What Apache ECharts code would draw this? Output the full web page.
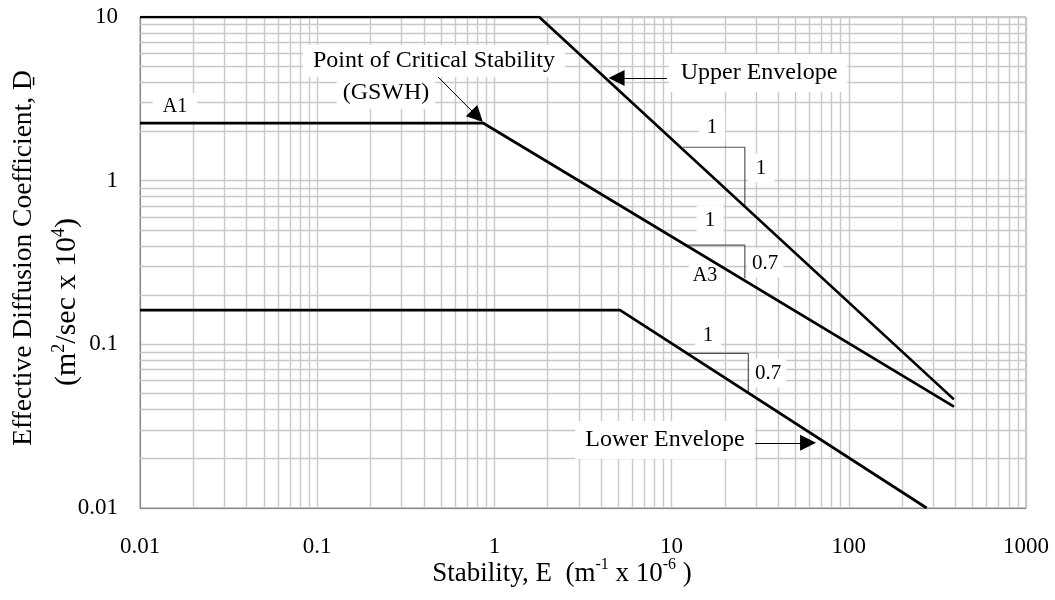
<!DOCTYPE html>
<html>
<head>
<meta charset="UTF-8">
<title>Effective Diffusion Coefficient vs Stability</title>
<script src="https://cdn.jsdelivr.net/npm/echarts@6/dist/echarts.min.js"></script>
<style>
  body { margin: 0; background: #fff; }
  #main { width: 1055px; height: 600px; }
</style>
</head>
<body>
<div id="main"></div>
<script>
  // axis decades and minor steps
  const xDecades = [0.01, 0.1, 1, 10, 100];
  const yDecades = [0.01, 0.1, 1];
  const minorSteps = [2, 3, 4, 5, 6, 7, 8, 9];

  // envelope lines
  const upperX = [0.01, 1.79, 392];
  const upperY = [10, 10, 0.0461];
  const criticalX = [0.01, 0.863, 392];
  const criticalY = [2.25, 2.25, 0.0416];
  const lowerX = [0.01, 5.12, 275];
  const lowerY = [0.162, 0.162, 0.01];

  // slope triangles
  const triUpperX = [11.6, 25.9, 25.9];
  const triUpperY = [1.6, 1.6, 0.7];
  const triMidX = [12.2, 25.9, 25.9];
  const triMidY = [0.404, 0.404, 0.253];
  const triLowX = [12.4, 27.1, 27.1];
  const triLowY = [0.0881, 0.0881, 0.0505];

  // arrows: [fromX, fromY, headX, headY] (head = middle of the arrow head)
  const arrowUpper = [9.42, 4.24, 4.89, 4.24];
  const arrowCritical = [0.481, 4.30, 0.80, 2.47];
  const arrowLower = [29.6, 0.025, 58.9, 0.025];

  const zip = (xs, ys) => xs.map((x, i) => [x, ys[i]]);
  const minors = decades => {
    const out = [];
    decades.forEach(d => minorSteps.forEach(s => out.push(Number((d * s).toPrecision(3)))));
    return out;
  };

  const serif = '"Liberation Serif", "Times New Roman", serif';
  const gridColor = '#c8c8c8';

  function envelope(name, xs, ys) {
    return {
      name, type: 'line', data: zip(xs, ys), symbol: 'none', z: 20,
      lineStyle: { color: '#000', width: 2.7 }, silent: true
    };
  }
  function triangle(xs, ys) {
    return {
      type: 'line', data: zip(xs, ys), symbol: 'none', z: 19,
      lineStyle: { color: '#555', width: 1.2 }, silent: true
    };
  }
  function arrow(a) {
    return [{ coord: [a[0], a[1]] }, { coord: [a[2], a[3]] }];
  }

  const gridLines = {
    type: 'line', data: [], z: 1, silent: true,
    markLine: {
      z: 1, silent: true, symbol: 'none', animation: false,
      label: { show: false },
      lineStyle: { color: gridColor, width: 1.4, type: 'solid' },
      emphasis: { disabled: true },
      data: minors(xDecades).map(v => ({ xAxis: v }))
        .concat(minors(yDecades).map(v => ({ yAxis: v })))
    }
  };

  const arrows = {
    type: 'line', data: [], z: 21, silent: true,
    markLine: {
      z: 21, silent: true, animation: false,
      symbol: ['none', 'triangle'], symbolSize: 16,
      label: { show: false },
      lineStyle: { color: '#000', width: 1, type: 'solid' },
      itemStyle: { color: '#000' },
      emphasis: { disabled: true },
      data: [arrow(arrowUpper), arrow(arrowCritical), arrow(arrowLower)]
    }
  };

  function label(text, x, y, size, pad) {
    return {
      type: 'text', x, y, z: 10, silent: true,
      style: {
        text, fill: '#000', font: size + 'px ' + serif,
        align: 'center', verticalAlign: 'middle',
        backgroundColor: '#fff', padding: pad || [4, 8]
      }
    };
  }

  const option = {
    animation: false,
    backgroundColor: '#fff',
    grid: {
      left: 140, right: 29, top: 17, bottom: 92, show: true,
      borderColor: '#888', borderWidth: 1
    },
    xAxis: {
      type: 'log', logBase: 10, min: 0.01, max: 1000,
      axisLine: { lineStyle: { color: '#888' } },
      axisTick: { show: false },
      axisLabel: {
        color: '#000', fontFamily: serif, fontSize: 23, margin: 27,
        formatter: v => String(v)
      },
      splitLine: { show: true, lineStyle: { color: gridColor, width: 1.4 } }
    },
    yAxis: {
      type: 'log', logBase: 10, min: 0.01, max: 10,
      axisLine: { show: true, lineStyle: { color: '#888' } },
      axisTick: { show: false },
      axisLabel: {
        color: '#000', fontFamily: serif, fontSize: 23, margin: 22,
        formatter: v => String(v)
      },
      splitLine: { show: true, lineStyle: { color: gridColor, width: 1.4 } }
    },
    series: [
      gridLines,
      envelope('Upper Envelope', upperX, upperY),
      envelope('Critical', criticalX, criticalY),
      envelope('Lower Envelope', lowerX, lowerY),
      triangle(triUpperX, triUpperY),
      triangle(triMidX, triMidY),
      triangle(triLowX, triLowY),
      arrows
    ],
    graphic: [
      label('Upper Envelope', 758, 73, 24, [7, 10, 7, 12]),
      label('Point of Critical Stability', 434, 61, 24, [4, 10]),
      label('(GSWH)', 386, 93, 24, [4, 6]),
      label('A1', 175, 107, 20, [4, 10]),
      label('1', 712, 127, 21),
      label('1', 761, 168, 21),
      label('1', 710, 220, 21),
      label('0.7', 765, 263, 21, [4, 5]),
      label('A3', 705, 276, 20, [2, 4]),
      label('1', 708, 335, 21),
      label('0.7', 768, 373, 21, [4, 5]),
      label('Lower Envelope', 665, 440, 24, [7, 10]),
      {
        type: 'text', x: 562, y: 572, silent: true,
        style: {
          text: '{n|Stability, E  (m}{s|-1}{n| x 10}{s|-6}{n| )}',
          align: 'center', verticalAlign: 'middle', fill: '#000',
          rich: {
            n: { fontFamily: serif, fontSize: 27, lineHeight: 30, verticalAlign: 'bottom' },
            s: { fontFamily: serif, fontSize: 16, lineHeight: 30, verticalAlign: 'top' }
          }
        }
      },
      {
        type: 'text', x: 24, y: 258, rotation: Math.PI / 2, silent: true,
        style: {
          text: 'Effective Diffusion Coefficient, Ḏ',
          align: 'center', verticalAlign: 'middle', fill: '#000',
          font: '27.5px ' + serif
        }
      },
      {
        type: 'text', x: 66, y: 302, rotation: Math.PI / 2, silent: true,
        style: {
          text: '{n|(m}{s|2}{n|/sec x 10}{s|4}{n|)}',
          align: 'center', verticalAlign: 'middle', fill: '#000',
          rich: {
            n: { fontFamily: serif, fontSize: 30, lineHeight: 32, verticalAlign: 'bottom' },
            s: { fontFamily: serif, fontSize: 18, lineHeight: 32, verticalAlign: 'top' }
          }
        }
      }
    ]
  };

  const chart = echarts.init(document.getElementById('main'));
  chart.setOption(option);
</script>
</body>
</html>
